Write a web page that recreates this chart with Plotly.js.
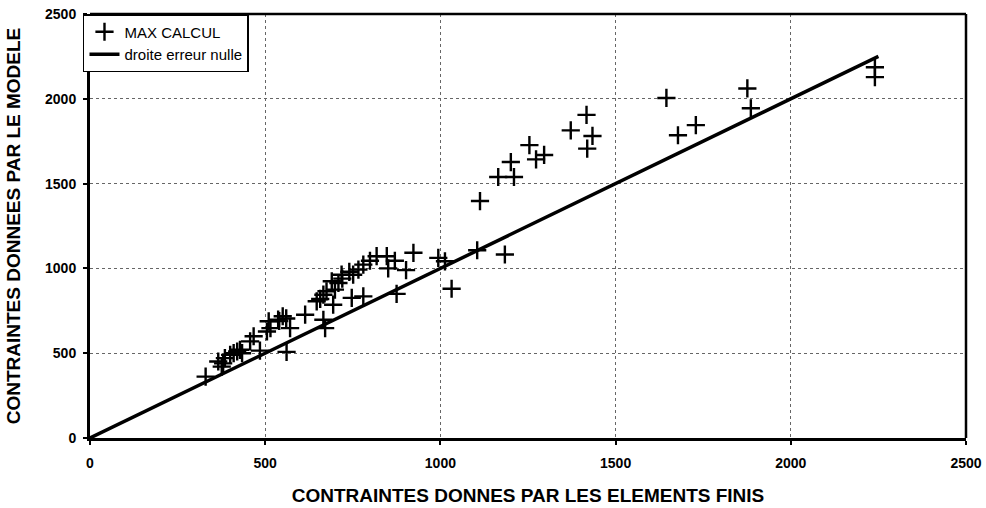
<!DOCTYPE html>
<html>
<head>
<meta charset="utf-8">
<script src="https://cdn.plot.ly/plotly-3.0.1.min.js"></script>
<style>
  html, body { margin: 0; padding: 0; background: #fff; }
  #chart { width: 986px; height: 508px; }
</style>
</head>
<body>
<div id="chart"></div>
<script>
// Stresses from the finite element model (x) vs. stresses from the analytical model (y)
const feStress = [
  330, 366, 376, 380, 385, 400, 410, 420, 428, 434,
  457, 467, 485, 505, 510, 515, 537, 540, 550, 560,
  571, 561, 614, 647, 657, 666, 675, 690, 699, 709,
  718, 694, 666, 671, 720, 740, 747, 780, 751, 766,
  780, 799, 818, 847, 870, 851, 902, 923, 875, 994,
  1013, 1032, 1105, 1184, 1113, 1165, 1210, 1201, 1254, 1273,
  1296, 1372, 1417, 1434, 1419, 1645, 1678, 1729, 1876, 1886,
  2240, 2240
];
const modelStress = [
  362, 451, 421, 440, 471, 490, 500, 510, 520, 500,
  570, 600, 515, 628, 688, 648, 698, 690, 718, 705,
  648, 508, 727, 806, 820, 845, 865, 924, 875, 914,
  963, 786, 697, 648, 940, 980, 826, 835, 963, 993,
  1022, 1045, 1072, 1072, 1045, 1000, 990, 1092, 850, 1062,
  1042, 880, 1107, 1082, 1397, 1539, 1539, 1627, 1727, 1643,
  1669, 1814, 1905, 1781, 1706, 2005, 1785, 1845, 2061, 1944,
  2186, 2128
];

// Zero-error line y = x
const lineX = [0, 2250];
const lineY = [0, 2250];

const tickVals = [0, 500, 1000, 1500, 2000, 2500];

const FONT = 'Liberation Sans, Arial, sans-serif';

const traces = [
  {
    x: feStress, y: modelStress,
    type: 'scatter', mode: 'markers',
    name: 'MAX CALCUL',
    marker: { symbol: 'cross-thin-open', size: 13, color: '#000', line: { color: '#000', width: 2.4 } }
  },
  {
    x: lineX, y: lineY,
    type: 'scatter', mode: 'lines',
    name: 'droite erreur nulle',
    line: { color: '#000', width: 3.5 }
  }
];

const axisCommon = {
  range: [0, 2500],
  tickvals: tickVals,
  showgrid: true,
  gridcolor: '#666',
  griddash: 'dot',
  gridwidth: 1,
  zeroline: false,
  showline: true,
  linecolor: '#000',
  linewidth: 3,
  mirror: false,
  ticks: 'outside',
  ticklen: 4,
  tickwidth: 2,
  tickcolor: '#000',
  tickfont: { family: FONT, size: 14, color: '#000', weight: 'bold' }
};

const layout = {
  width: 986, height: 508,
  margin: { l: 90, r: 20, t: 14, b: 70 },
  paper_bgcolor: '#fff',
  plot_bgcolor: '#fff',
  showlegend: true,
  legend: {
    x: -0.008, y: 1, xanchor: 'left', yanchor: 'top',
    bgcolor: '#fff', bordercolor: '#000', borderwidth: 1.5,
    font: { family: FONT, size: 15, color: '#000' },
    tracegroupgap: 0
  },
  xaxis: Object.assign({}, axisCommon, {
    ticklabelstandoff: 6,
    title: { text: 'CONTRAINTES DONNES PAR LES ELEMENTS FINIS', standoff: 19,
      font: { family: FONT, size: 19, color: '#000', weight: 'bold' } }
  }),
  yaxis: Object.assign({}, axisCommon, {
    ticklabelstandoff: 4,
    title: { text: 'CONTRAINTES DONNEES PAR LE MODELE', standoff: 20,
      font: { family: FONT, size: 19, color: '#000', weight: 'bold' } }
  }),
  shapes: [
    // frame on top and right of the plotting area
    { type: 'line', xref: 'paper', yref: 'paper', x0: 0, x1: 1, y0: 1, y1: 1, line: { color: '#000', width: 2.5 } },
    { type: 'line', xref: 'paper', yref: 'paper', x0: 1, x1: 1, y0: 0, y1: 1, line: { color: '#000', width: 2.5 } }
  ]
};

Plotly.newPlot('chart', traces, layout, { displayModeBar: false, staticPlot: true });
</script>
</body>
</html>
